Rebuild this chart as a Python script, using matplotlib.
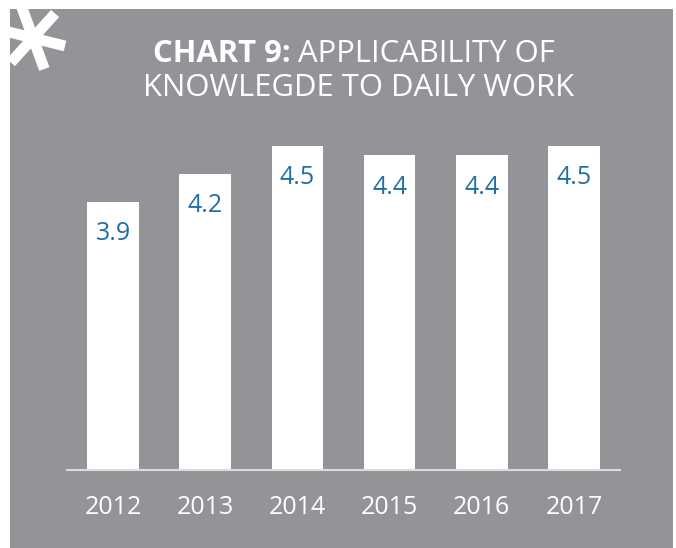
import matplotlib.pyplot as plt
import numpy as np

# Chart 9: applicability of knowledge to daily work (1-5 rating scale)
years = ["2012", "2013", "2014", "2015", "2016", "2017"]
scores = [3.9, 4.2, 4.5, 4.4, 4.4, 4.5]
scale_min = 1.0  # bars start at the bottom of the rating scale
scale_max = 5.0
title_bold = "CHART 9:"
title_line1 = " APPLICABILITY OF"
title_line2 = "KNOWLEGDE TO DAILY WORK"

GREY = "#929497"
BLUE = "#1f6ea6"
plt.rcParams["font.family"] = ["Open Sans", "DejaVu Sans"]

W, H = 676, 548
fig = plt.figure(figsize=(W / 100, H / 100), dpi=100)
fig.patch.set_facecolor("white")

# Background panel in pixel coordinates.
bg = fig.add_axes([0, 0, 1, 1], zorder=0)
bg.set_xlim(0, W)
bg.set_ylim(H, 0)
bg.axis("off")
bg.add_patch(plt.Rectangle((10, 9), 663, 545, color=GREY, lw=0))

# Asterisk in the top-left corner.
cx, cy, arm = 33, 38, 33
for ang in (110, 48, -14):
    a = np.deg2rad(ang)
    dx, dy = arm * np.cos(a), -arm * np.sin(a)
    bg.plot([cx - dx, cx + dx], [cy - dy, cy + dy], color="white", lw=7.8,
            solid_capstyle="butt")

# Title: two lines, first part bold.
renderer = fig.canvas.get_renderer()


def centered_line(parts, y, xc, size=22.3):
    texts = [bg.text(0, y, s, fontsize=size, fontweight=w, color="white",
                     va="baseline") for s, w in parts]
    widths = [t.get_window_extent(renderer).width for t in texts]
    x = xc - sum(widths) / 2
    for t, w in zip(texts, widths):
        t.set_x(x)
        x += w


centered_line([(title_bold, "bold"), (title_line1, "normal")], 62, 354)
centered_line([(title_line2, "normal")], 96, 359)

# Bars.
ax = fig.add_axes([67 / W, 78 / H, 553 / W, 370 / H], zorder=1)
ax.patch.set_alpha(0)
x = np.arange(len(years))
vals = np.array(scores)
ax.bar(x, vals - scale_min, bottom=scale_min, width=0.56, color="white", lw=0)
ax.set_xlim(-0.5, len(years) - 0.5)
ax.set_ylim(scale_min, scale_max)

for i, v in enumerate(scores):
    ax.annotate(f"{v}", (i, v), xytext=(0, -27.4), textcoords="offset points",
                ha="center", va="baseline", color=BLUE, fontsize=18)

for s in ("top", "right", "left"):
    ax.spines[s].set_visible(False)
ax.spines["bottom"].set_color("#dcdcdc")
ax.spines["bottom"].set_linewidth(1.5)
ax.set_yticks([])
ax.set_xticks(x, years)
ax.tick_params(axis="x", length=0, pad=18, labelsize=18, labelcolor="white")

fig.savefig("out.png", dpi=100)
